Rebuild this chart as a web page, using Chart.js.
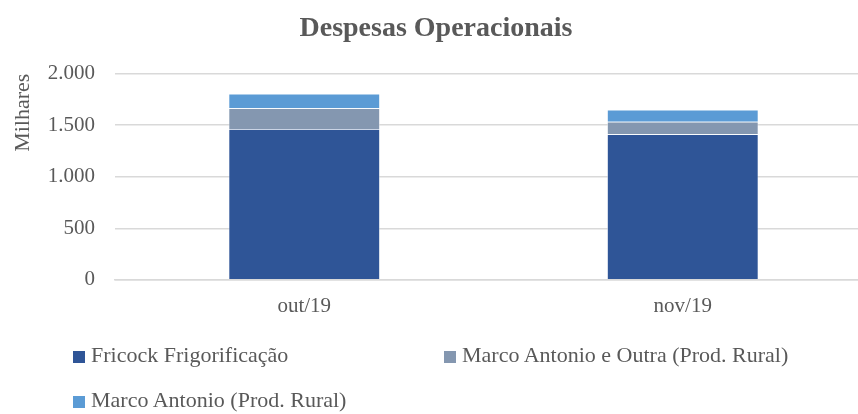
<!DOCTYPE html>
<html>
<head>
<meta charset="utf-8">
<script src="https://cdn.jsdelivr.net/npm/chart.js@4/dist/chart.umd.min.js"></script>
<style>
  html, body { margin: 0; padding: 0; background: #fff; }
  #wrap { position: relative; width: 858px; height: 414px; overflow: hidden; }
  #legend { position: absolute; left: 0; top: 0; font-family: "Liberation Serif", serif; font-size: 22px; color: #595959; }
  .lg-item { position: absolute; white-space: nowrap; line-height: 24px; }
  .lg-box { display: inline-block; width: 12px; height: 12px; margin-right: 6px; vertical-align: -1px; }
</style>
</head>
<body>
<div id="wrap">
  <!-- canvas a bit wider than the window: the original picture is cropped on the right -->
  <canvas id="chart" width="872" height="414"></canvas>
  <div id="legend"></div>
</div>
<script>
// ---- data ----
const categories = ["out/19", "nov/19"];
const fricock = [1463, 1412];
const marcoOutra = [202, 120];
const marcoAntonio = [140, 117];
const seriesNames = ["Fricock Frigorificação", "Marco Antonio e Outra (Prod. Rural)", "Marco Antonio (Prod. Rural)"];
const seriesColors = ["#2F5597", "#8497B0", "#5B9BD5"];
const yTicks = [0, 500, 1000, 1500, 2000];

const TXT = "#595959";
const FONT = "'Liberation Serif', serif";

function fmtThousands(v) {
  return String(v).replace(/\B(?=(\d{3})+(?!\d))/g, ".");
}

const seriesValues = [fricock, marcoOutra, marcoAntonio];

const chart = new Chart(document.getElementById("chart"), {
  type: "bar",
  data: {
    labels: categories,
    datasets: seriesValues.map((vals, i) => ({
      label: seriesNames[i],
      data: vals,
      backgroundColor: seriesColors[i],
      borderColor: "rgba(255,255,255,0.6)",
      borderWidth: 0.75,
      categoryPercentage: 1,
      barPercentage: 0.4,
    })),
  },
  options: {
    responsive: false,
    animation: false,
    layout: { padding: { left: 0, right: 0, top: 0, bottom: 81 } },
    plugins: {
      legend: { display: false },
      tooltip: { enabled: false },
      title: {
        display: true,
        text: "Despesas Operacionais",
        color: TXT,
        font: { family: FONT, size: 28, weight: "bold" },
        padding: { top: 12, bottom: 28 },
      },
    },
    scales: {
      x: {
        stacked: true,
        grid: { display: false, drawTicks: false },
        border: { color: "#d9d9d9", width: 1.5 },
        ticks: { color: TXT, font: { family: FONT, size: 21 }, padding: 14 },
      },
      y: {
        stacked: true,
        min: 0,
        max: 2000,
        afterBuildTicks: (s) => { s.ticks = yTicks.map((v) => ({ value: v })); },
        afterFit: (s) => { s.width = 115; },
        grid: { color: "#d9d9d9", lineWidth: 1.5, drawTicks: false },
        border: { display: false },
        ticks: { color: TXT, font: { family: FONT, size: 21 }, padding: 20, callback: (v) => fmtThousands(v) },
        title: {
          display: true,
          text: "Milhares",
          align: "end",
          color: TXT,
          font: { family: FONT, size: 22 },
          padding: { top: 10, bottom: 0 },
        },
      },
    },
  },
});

// HTML legend laid out like the original (two columns)
const legendPos = [
  { x: 73, y: 343 },
  { x: 444, y: 343 },
  { x: 73, y: 388 },
];
document.getElementById("legend").innerHTML = chart.data.datasets
  .map((ds, i) => `<div class="lg-item" style="left:${legendPos[i].x}px;top:${legendPos[i].y}px"><span class="lg-box" style="background:${ds.backgroundColor}"></span>${ds.label}</div>`)
  .join("");
</script>
</body>
</html>
